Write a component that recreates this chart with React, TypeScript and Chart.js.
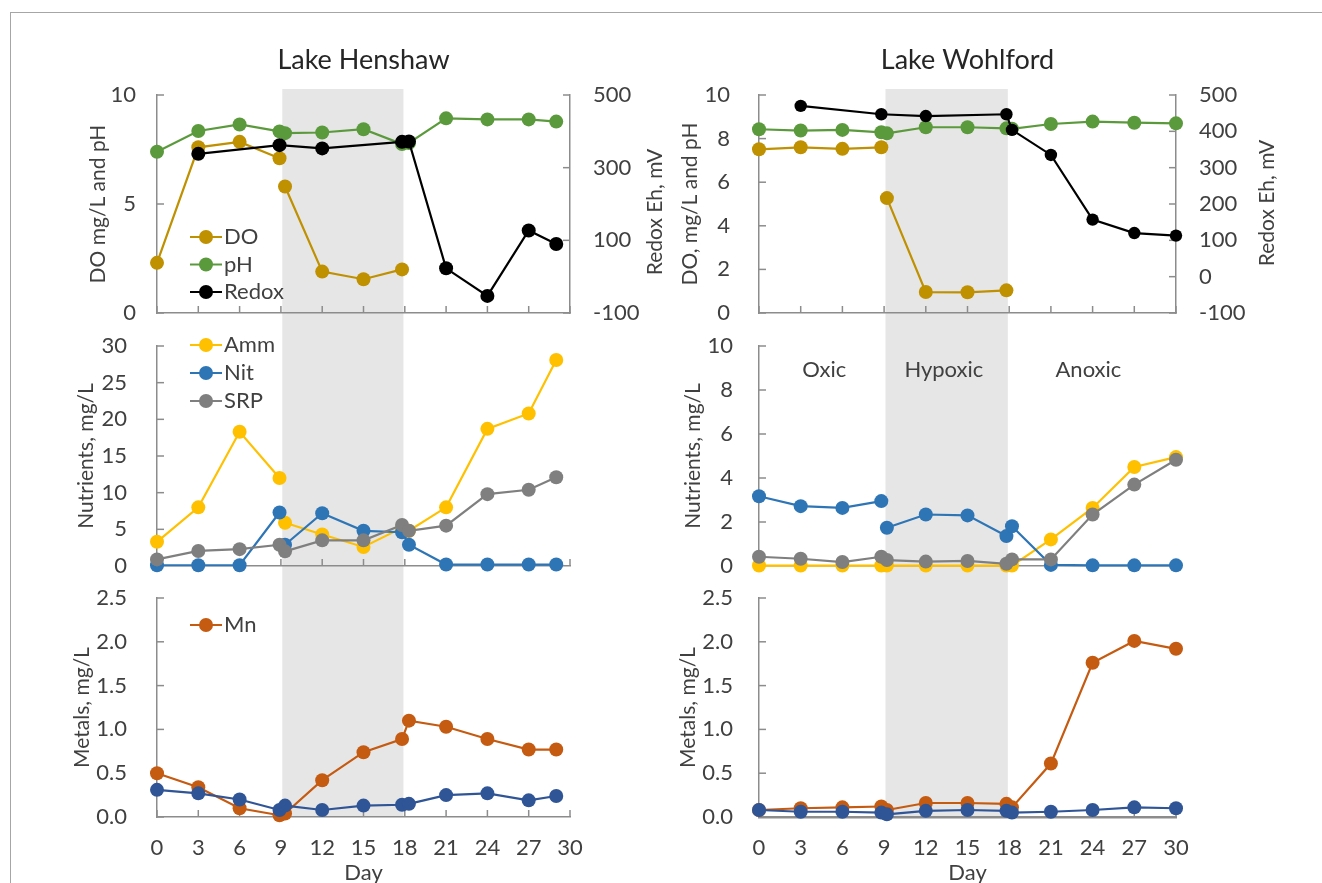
import React, { useEffect, useRef } from 'react';
import { Chart, registerables } from 'chart.js';

Chart.register(...registerables);

const FONT = 'Lato, "Open Sans", sans-serif';
const TEXT = '#404040';
const AXIS = '#8c8c8c';
const BAND = '#e6e6e6';

// ---------------- Data ----------------
const henshawDays = [0, 3, 6, 8.9, 9.3, 12, 15, 17.8, 18.3, 21, 24, 27, 29];
const henshawDO = [2.3, 7.6, 7.85, 7.1, 5.8, 1.9, 1.55, 2.0, null, null, null, null, null];
const henshawPH = [7.4, 8.35, 8.65, 8.33, 8.25, 8.28, 8.43, 7.75, 7.8, 8.93, 8.88, 8.88, 8.78];
const henshawRedox = [null, 338, null, 362, null, 353, null, 371, 372, 23, -53, 127, 90];
const henshawAmm = [3.3, 8.0, 18.3, 12.0, 5.9, 4.3, 2.6, 5.2, 4.8, 8.0, 18.7, 20.8, 28.1];
const henshawNit = [0.1, 0.1, 0.1, 7.3, 2.9, 7.2, 4.8, 4.6, 2.9, 0.2, 0.2, 0.2, 0.2];
const henshawSRP = [0.9, 2.05, 2.3, 2.9, 2.0, 3.5, 3.5, 5.6, 4.8, 5.5, 9.8, 10.4, 12.1];
const henshawMn = [0.5, 0.34, 0.1, 0.02, 0.04, 0.42, 0.74, 0.89, 1.1, 1.03, 0.89, 0.77, 0.77];
const henshawFe = [0.31, 0.27, 0.2, 0.08, 0.13, 0.08, 0.13, 0.14, 0.15, 0.25, 0.27, 0.19, 0.24];

const wohlfordDays = [0, 3, 6, 8.8, 9.2, 12, 15, 17.8, 18.2, 21, 24, 27, 30];
const wohlfordDO = [7.51, 7.6, 7.53, 7.6, 5.27, 0.96, 0.95, 1.04, null, null, null, null, null];
const wohlfordPH = [8.43, 8.37, 8.4, 8.29, 8.24, 8.52, 8.52, 8.47, 8.45, 8.67, 8.78, 8.73, 8.7];
const wohlfordRedox = [null, 470, null, 447, null, 442, null, 447, 404, 335, 157, 120, 113];
const wohlfordAmm = [0.02, 0.02, 0.02, 0.02, 0.02, 0.02, 0.02, 0.02, 0.02, 1.21, 2.64, 4.5, 4.95];
const wohlfordNit = [3.17, 2.72, 2.64, 2.95, 1.74, 2.34, 2.3, 1.36, 1.81, 0.05, 0.03, 0.03, 0.03];
const wohlfordSRP = [0.42, 0.33, 0.18, 0.42, 0.27, 0.2, 0.23, 0.1, 0.3, 0.3, 2.34, 3.7, 4.83];
const wohlfordMn = [0.08, 0.1, 0.11, 0.12, 0.08, 0.16, 0.16, 0.15, 0.11, 0.61, 1.76, 2.01, 1.92];
const wohlfordFe = [0.08, 0.06, 0.06, 0.05, 0.03, 0.07, 0.08, 0.07, 0.05, 0.06, 0.08, 0.11, 0.1];

const hypoxicStart = 9.1;
const hypoxicEnd = 17.9;
const phaseNames = ['Oxic', 'Hypoxic', 'Anoxic'];
const phaseDays = [4.7, 13.3, 23.7];
const phaseLevel = 8.9;

const COLORS = {
  DO: '#bf9000',
  pH: '#5b9a3c',
  Redox: '#000000',
  Amm: '#ffc000',
  Nit: '#2e75b6',
  SRP: '#7f7f7f',
  Mn: '#c55a11',
  Fe: '#2f5597',
};

const TICK_SIZE = 22;
const AXIS_TITLE_SIZE = 21;
const MARKER = 7;

// ---------------- Plugins ----------------
const bandPlugin = {
  id: 'band',
  beforeDraw(chart: any, _a: any, opts: any) {
    if (!opts || opts.from == null) return;
    const xs = chart.scales.x;
    const x0 = xs.getPixelForValue(opts.from);
    const x1 = xs.getPixelForValue(opts.to);
    const top = opts.top ?? 0;
    const bottom = opts.toChartBottom ? chart.chartArea.bottom : chart.height;
    const ctx = chart.ctx;
    ctx.save();
    ctx.fillStyle = BAND;
    ctx.fillRect(x0, top, x1 - x0, bottom - top);
    ctx.restore();
  },
};

const inwardTicks = {
  id: 'inwardTicks',
  beforeDatasetsDraw(chart: any) {
    const ctx = chart.ctx;
    const len = 7;
    ctx.save();
    ctx.strokeStyle = AXIS;
    ctx.lineWidth = 1.5;
    Object.values(chart.scales).forEach((s: any) => {
      s.ticks.forEach((t: any) => {
        const p = s.getPixelForValue(t.value);
        ctx.beginPath();
        if (s.axis === 'x') {
          ctx.moveTo(p, s.top);
          ctx.lineTo(p, s.top - len);
        } else if (s.position === 'left') {
          ctx.moveTo(s.right, p);
          ctx.lineTo(s.right + len, p);
        } else {
          ctx.moveTo(s.left, p);
          ctx.lineTo(s.left - len, p);
        }
        ctx.stroke();
      });
    });
    ctx.restore();
  },
};

const lineLegend = {
  id: 'lineLegend',
  afterDatasetsDraw(chart: any, _a: any, opts: any) {
    if (!opts || !opts.items) return;
    const ctx = chart.ctx;
    ctx.save();
    opts.items.forEach((idx: number, i: number) => {
      const ds = chart.data.datasets[idx];
      const y = opts.y + i * opts.spacing;
      ctx.strokeStyle = ds.borderColor;
      ctx.lineWidth = 2;
      ctx.beginPath();
      ctx.moveTo(opts.x, y);
      ctx.lineTo(opts.x + 32, y);
      ctx.stroke();
      ctx.fillStyle = ds.borderColor;
      ctx.beginPath();
      ctx.arc(opts.x + 16, y, MARKER, 0, Math.PI * 2);
      ctx.fill();
      ctx.fillStyle = TEXT;
      ctx.font = `${TICK_SIZE}px ${FONT}`;
      ctx.textBaseline = 'middle';
      ctx.textAlign = 'left';
      ctx.fillText(ds.label, opts.x + 34, y);
    });
    ctx.restore();
  },
};

const phaseText = {
  id: 'phaseText',
  afterDatasetsDraw(chart: any, _a: any, opts: any) {
    if (!opts || !opts.labels) return;
    const ctx = chart.ctx;
    const xs = chart.scales.x;
    const ys = chart.scales.y;
    ctx.save();
    ctx.fillStyle = TEXT;
    ctx.font = `${TICK_SIZE}px ${FONT}`;
    ctx.textAlign = 'center';
    ctx.textBaseline = 'middle';
    opts.labels.forEach((t: string, i: number) => {
      ctx.fillText(t, xs.getPixelForValue(opts.days[i]), ys.getPixelForValue(opts.level));
    });
    ctx.restore();
  },
};

const sideTitle = {
  id: 'sideTitle',
  afterDraw(chart: any, _a: any, opts: any) {
    if (!opts || !opts.text) return;
    const ctx = chart.ctx;
    ctx.save();
    ctx.translate(opts.x, opts.y);
    ctx.rotate(-Math.PI / 2);
    ctx.fillStyle = TEXT;
    ctx.font = `${AXIS_TITLE_SIZE}px ${FONT}`;
    ctx.textAlign = 'center';
    ctx.textBaseline = 'middle';
    ctx.fillText(opts.text, 0, 0);
    ctx.restore();
  },
};

// ---------------- Config builder ----------------
type Series = { label: string; values: (number | null)[]; color: string; axis?: string; span?: boolean; radius?: number };

function noPad(s: any) {
  s.paddingTop = 0;
  s.paddingBottom = 0;
  s.paddingLeft = 0;
  s.paddingRight = 0;
}

function buildConfig(p: any) {
  const days: number[] = p.days;
  const datasets = p.series.map((s: Series) => ({
    label: s.label,
    data: days.map((d, i) => ({ x: d, y: s.values[i] })),
    borderColor: s.color,
    backgroundColor: s.color,
    pointBackgroundColor: s.color,
    pointBorderColor: s.color,
    pointBorderWidth: 0,
    pointRadius: s.radius ?? MARKER,
    borderWidth: 2.2,
    tension: 0,
    spanGaps: !!s.span,
    clip: false,
    yAxisID: s.axis ?? 'y',
    segment: s.span
      ? undefined
      : {
          borderColor: (ctx: any) =>
            days[ctx.p0DataIndex] < hypoxicStart && days[ctx.p1DataIndex] > hypoxicStart ? 'rgba(0,0,0,0)' : undefined,
        },
  }));

  const tickFont = { family: FONT, size: TICK_SIZE };
  const titleFont = { family: FONT, size: AXIS_TITLE_SIZE };
  const scales: any = {
    x: {
      type: 'linear',
      min: 0,
      max: 30,
      ticks: { stepSize: 3, display: !!p.showX, padding: 18, color: TEXT, font: tickFont, autoSkip: false, maxRotation: 0 },
      grid: { display: false, drawTicks: false },
      border: { display: true, color: AXIS, width: p.xBorderWidth ?? 1.5 },
      title: {
        display: !!p.showX,
        text: 'Day',
        color: TEXT,
        font: tickFont,
        padding: { top: 0, bottom: -3 },
      },
      afterFit: (s: any) => {
        s.height = p.bottomH;
        noPad(s);
      },
    },
    y: {
      type: 'linear',
      position: 'left',
      min: p.yMin,
      max: p.yMax,
      ticks: {
        stepSize: p.yStep,
        padding: p.yLabelPad,
        color: TEXT,
        font: tickFont,
        callback: (v: any) => (p.yDecimals ? Number(v).toFixed(p.yDecimals) : String(v)),
      },
      grid: { display: false, drawTicks: false },
      border: { display: true, color: AXIS, width: 1.5 },
      title: { display: true, text: p.yTitle, color: TEXT, font: titleFont, padding: { top: p.yTitlePad, bottom: 0 } },
      afterFit: (s: any) => {
        s.width = p.leftW;
        noPad(s);
      },
    },
  };
  if (p.y1) {
    scales.y1 = {
      type: 'linear',
      position: 'right',
      min: p.y1.min,
      max: p.y1.max,
      ticks: { stepSize: p.y1.step, padding: 23, color: TEXT, font: tickFont },
      grid: { display: false, drawTicks: false },
      border: { display: true, color: AXIS, width: 1.5 },
      afterFit: (s: any) => {
        s.width = p.rightW;
        noPad(s);
      },
    };
  }

  return {
    type: 'line',
    data: { datasets },
    options: {
      responsive: false,
      animation: false,
      events: [],
      layout: { padding: { top: p.padTop, right: p.y1 ? 0 : p.rightW, left: 0, bottom: 0 } },
      scales,
      plugins: {
        legend: { display: false },
        tooltip: { enabled: false },
        title: p.title
          ? {
              display: true,
              text: p.title,
              fullSize: false,
              color: '#262626',
              font: { family: FONT, size: 27, weight: 'normal', lineHeight: 1.2 },
              padding: { top: 13.8, bottom: 18.8 },
            }
          : { display: false },
        band: { from: hypoxicStart, to: hypoxicEnd, top: p.bandTop ?? 0, toChartBottom: !!p.bandToChartBottom },
        lineLegend: p.legend ?? {},
        phaseText: p.phases ?? {},
        sideTitle: p.sideTitle ?? {},
      },
    },
    plugins: [bandPlugin, inwardTicks, lineLegend, phaseText, sideTitle],
  };
}

// ---------------- Layout ----------------
const LEFT_COL = { left: 0, width: 680, leftW: 157, rightW: 110 };
const RIGHT_COL = { left: 670, width: 652, leftW: 89, rightW: 146 };
const ROW_TOP = { top: 30, height: 300, padTop: 0, bottomH: 17 };
const ROW_MID = { top: 330, height: 250, padTop: 16, bottomH: 14 };
const ROW_BOT = { top: 580, height: 303, padTop: 18, bottomH: 66 };

const panels = [
  {
    col: LEFT_COL,
    row: ROW_TOP,
    cfg: {
      days: henshawDays,
      title: 'Lake Henshaw',
      series: [
        { label: 'Redox', values: henshawRedox, color: COLORS.Redox, axis: 'y1', span: true },
        { label: 'pH', values: henshawPH, color: COLORS.pH },
        { label: 'DO', values: henshawDO, color: COLORS.DO },
      ],
      yMin: 0, yMax: 10, yStep: 5, yTitle: 'DO mg/L and pH', yTitlePad: 85.4, yLabelPad: 21,
      y1: { min: -100, max: 500, step: 200 },
      legend: { x: 190, y: 207, spacing: 27.5, items: [2, 1, 0] },
      sideTitle: { text: 'Redox Eh, mV', x: 655, y: 182 },
      bandTop: 59,
    },
  },
  {
    col: LEFT_COL,
    row: ROW_MID,
    cfg: {
      days: henshawDays,
      series: [
        { label: 'SRP', values: henshawSRP, color: COLORS.SRP },
        { label: 'Nit', values: henshawNit, color: COLORS.Nit },
        { label: 'Amm', values: henshawAmm, color: COLORS.Amm },
      ],
      yMin: 0, yMax: 30, yStep: 5, yTitle: 'Nutrients, mg/L', yTitlePad: 73.4, yLabelPad: 30,
      legend: { x: 190, y: 15, spacing: 28, items: [2, 1, 0] },
    },
  },
  {
    col: LEFT_COL,
    row: ROW_BOT,
    cfg: {
      days: henshawDays,
      showX: true,
      series: [
        { label: 'Fe', values: henshawFe, color: COLORS.Fe },
        { label: 'Mn', values: henshawMn, color: COLORS.Mn },
      ],
      yMin: 0, yMax: 2.5, yStep: 0.5, yDecimals: 1, yTitle: 'Metals, mg/L', yTitlePad: 69.4, yLabelPad: 30,
      legend: { x: 190, y: 45, spacing: 28, items: [1] },
      bandToChartBottom: true,
    },
  },
  {
    col: RIGHT_COL,
    row: ROW_TOP,
    cfg: {
      days: wohlfordDays,
      title: 'Lake Wohlford',
      series: [
        { label: 'Redox', values: wohlfordRedox, color: COLORS.Redox, axis: 'y1', span: true, radius: 6.2 },
        { label: 'pH', values: wohlfordPH, color: COLORS.pH },
        { label: 'DO', values: wohlfordDO, color: COLORS.DO },
      ],
      yMin: 0, yMax: 10, yStep: 2, yTitle: 'DO, mg/L and pH', yTitlePad: 7.4, yLabelPad: 29,
      y1: { min: -100, max: 500, step: 100 },
      sideTitle: { text: 'Redox Eh, mV', x: 597, y: 173 },
      bandTop: 59,
    },
  },
  {
    col: RIGHT_COL,
    row: ROW_MID,
    cfg: {
      days: wohlfordDays,
      series: [
        { label: 'SRP', values: wohlfordSRP, color: COLORS.SRP },
        { label: 'Nit', values: wohlfordNit, color: COLORS.Nit },
        { label: 'Amm', values: wohlfordAmm, color: COLORS.Amm },
      ],
      yMin: 0, yMax: 10, yStep: 2, yTitle: 'Nutrients, mg/L', yTitlePad: 10.4, yLabelPad: 26,
      phases: { labels: phaseNames, days: phaseDays, level: phaseLevel },
    },
  },
  {
    col: RIGHT_COL,
    row: ROW_BOT,
    cfg: {
      days: wohlfordDays,
      showX: true,
      xBorderWidth: 2.5,
      series: [
        { label: 'Fe', values: wohlfordFe, color: COLORS.Fe },
        { label: 'Mn', values: wohlfordMn, color: COLORS.Mn },
      ],
      yMin: 0, yMax: 2.5, yStep: 0.5, yDecimals: 1, yTitle: 'Metals, mg/L', yTitlePad: 5.4, yLabelPad: 26,
      bandToChartBottom: true,
    },
  },
];

function Panel({ col, row, cfg }: any) {
  const ref = useRef<HTMLCanvasElement>(null);
  useEffect(() => {
    const config = buildConfig({
      ...cfg,
      leftW: col.leftW,
      rightW: col.rightW,
      padTop: row.padTop,
      bottomH: row.bottomH,
    });
    const chart = new Chart(ref.current as HTMLCanvasElement, config as any);
    return () => chart.destroy();
  }, []);
  return (
    <canvas
      ref={ref}
      width={col.width}
      height={row.height}
      style={{ position: 'absolute', left: col.left, top: row.top, width: col.width, height: row.height }}
    />
  );
}

export default function App() {
  return (
    <div
      style={{
        position: 'absolute',
        left: 0,
        top: 0,
        width: 1322,
        height: 883,
        overflow: 'hidden',
        background: '#ffffff',
      }}
    >
      <div
        style={{
          position: 'absolute',
          left: 10,
          top: 12,
          width: 1340,
          height: 900,
          borderTop: '1px solid #a6a6a6',
          borderLeft: '1px solid #a6a6a6',
        }}
      />
      {panels.map((p, i) => (
        <Panel key={i} col={p.col} row={p.row} cfg={p.cfg} />
      ))}
    </div>
  );
}
